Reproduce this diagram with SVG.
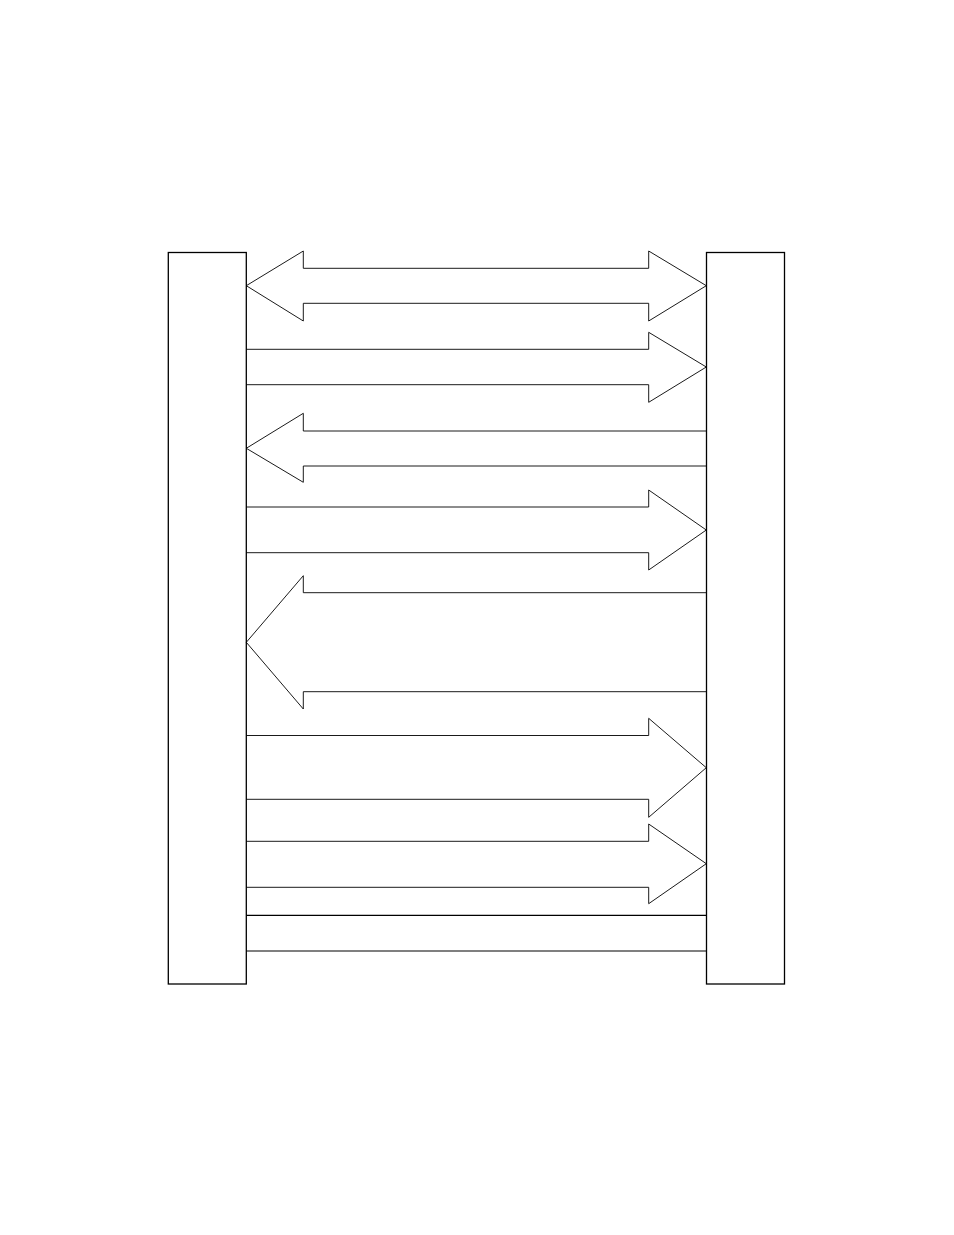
<svg xmlns="http://www.w3.org/2000/svg" width="954" height="1235" viewBox="0 0 954 1235">
<style>
.box{fill:#fff;stroke:#000;stroke-width:1.3}
.arr{fill:none;stroke:#000;stroke-width:0.9;stroke-linejoin:miter}
.ln{stroke:#000;stroke-width:1.2;fill:none}
</style>
<rect width="954" height="1235" fill="#fff"/>
<g id="left-box"><rect class="box" x="168.3" y="252.5" width="78" height="731.5"/></g>
<g id="right-box"><rect class="box" x="706.5" y="252.5" width="78" height="731.5"/></g>
<g id="connectors">
<path class="arr" d="M246.3,285.7 L303.3,251 L303.3,268.3 L648.7,268.3 L648.7,251 L706.3,285.7 L648.7,321 L648.7,303.3 L303.3,303.3 L303.3,321 Z"/>
<path class="arr" d="M246.3,349.3 L648.7,349.3 L648.7,332.3 L706.3,367 L648.7,402.3 L648.7,384.7 L246.3,384.7"/>
<path class="arr" d="M706.3,431 L303.3,431 L303.3,413.3 L246.3,448.3 L303.3,482.3 L303.3,466 L706.3,466"/>
<path class="arr" d="M246.3,507 L648.7,507 L648.7,490 L706.3,530 L648.7,570 L648.7,552.7 L246.3,552.7"/>
<path class="arr" d="M706.3,592.7 L303.3,592.7 L303.3,575.7 L246.3,642.3 L303.3,709 L303.3,691.7 L706.3,691.7"/>
<path class="arr" d="M246.3,735.5 L648.7,735.5 L648.7,718.3 L706.3,767.7 L648.7,817.3 L648.7,799.3 L246.3,799.3"/>
<path class="arr" d="M246.3,841.3 L648.7,841.3 L648.7,824 L706.3,863.7 L648.7,903.7 L648.7,887.3 L246.3,887.3"/>
<line class="ln" x1="246.3" y1="915.3" x2="706.3" y2="915.3"/>
<line class="ln" x1="246.3" y1="951" x2="706.3" y2="951"/>
</g>
</svg>
